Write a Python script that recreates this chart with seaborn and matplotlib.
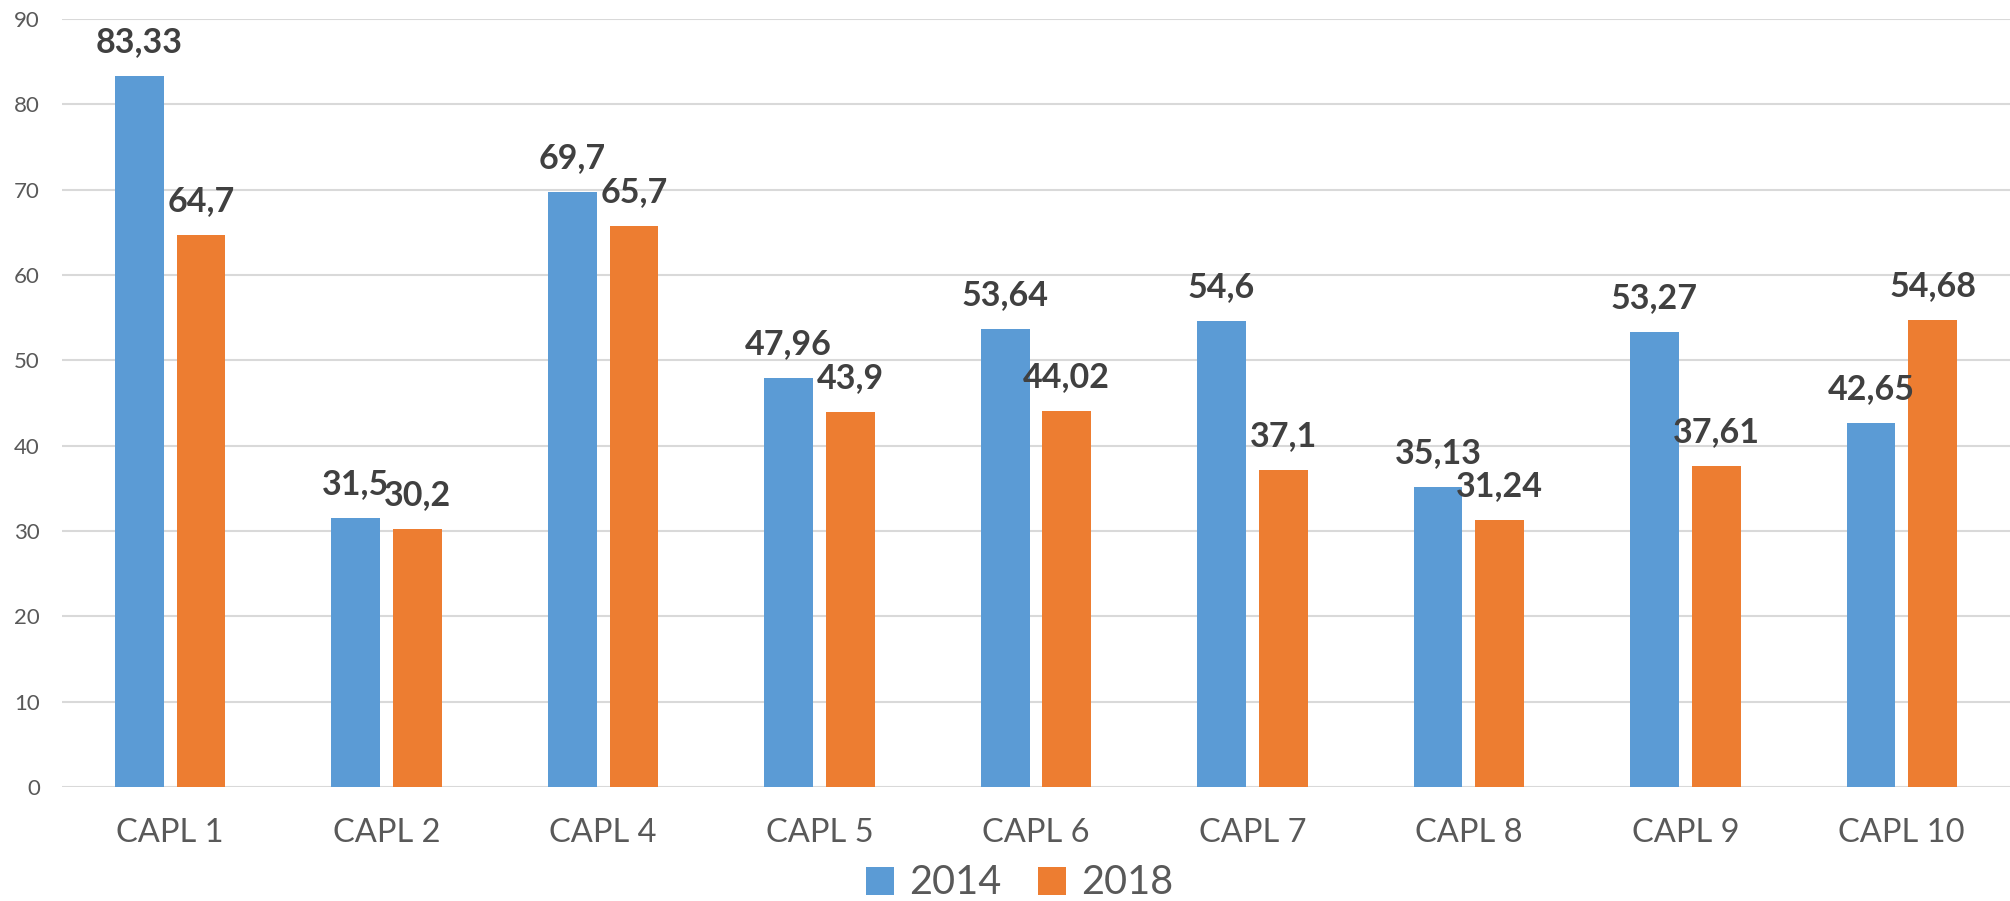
import matplotlib
matplotlib.use("Agg")
import matplotlib.pyplot as plt
import seaborn as sns
import pandas as pd

# chart data
categories = ["CAPL 1", "CAPL 2", "CAPL 4", "CAPL 5", "CAPL 6",
              "CAPL 7", "CAPL 8", "CAPL 9", "CAPL 10"]
values_2014 = [83.33, 31.5, 69.7, 47.96, 53.64, 54.6, 35.13, 53.27, 42.65]
values_2018 = [64.7, 30.2, 65.7, 43.9, 44.02, 37.1, 31.24, 37.61, 54.68]
years = ["2014", "2018"]
y_ticks = [0, 10, 20, 30, 40, 50, 60, 70, 80, 90]

df = pd.DataFrame({
    "cat": categories * 2,
    "year": [years[0]] * len(categories) + [years[1]] * len(categories),
    "value": values_2014 + values_2018,
})

sns.set_style("white")
plt.rcParams["font.family"] = ["Lato", "DejaVu Sans"]

fig = plt.figure(figsize=(20.1, 9.01), dpi=100)
ax = fig.add_axes([62 / 2010, 114 / 901, 1 - 62 / 2010, (787 - 19) / 901])

palette = {"2014": "#5B9BD5", "2018": "#ED7D31"}
sns.barplot(data=df, x="cat", y="value", hue="year", palette=palette,
            width=0.57, gap=0.21, linewidth=0, saturation=1, ax=ax)

# value labels with comma decimals
for cont in ax.containers:
    labels = [f"{v:g}".replace(".", ",") for v in cont.datavalues]
    ax.bar_label(cont, labels=labels, padding=13, fontsize=24.5,
                 fontweight="bold", color="#404040")

ax.set_ylim(0, 90)
ax.set_xlim(-0.5, len(categories) - 0.5)
ax.set_yticks(y_ticks)
ax.yaxis.grid(True, color="#D9D9D9", linewidth=1.5)
ax.set_axisbelow(True)
for s in ax.spines.values():
    s.set_visible(False)
ax.tick_params(axis="y", length=0, pad=16, labelsize=16, labelcolor="#595959")
ax.tick_params(axis="x", length=0, pad=22, labelsize=23.5, labelcolor="#595959")
ax.set_xlabel("")
ax.set_ylabel("")

handles, lbls = ax.get_legend_handles_labels()
ax.legend(handles, lbls, loc="center", bbox_to_anchor=(1019.5 / 2010, 18 / 901),
          bbox_transform=fig.transFigure, ncol=2, frameon=False,
          fontsize=28.5, labelcolor="#595959", handlelength=0.72,
          handleheight=0.72, handletextpad=0.37, columnspacing=0.93)

fig.savefig("out.png", dpi=100)
